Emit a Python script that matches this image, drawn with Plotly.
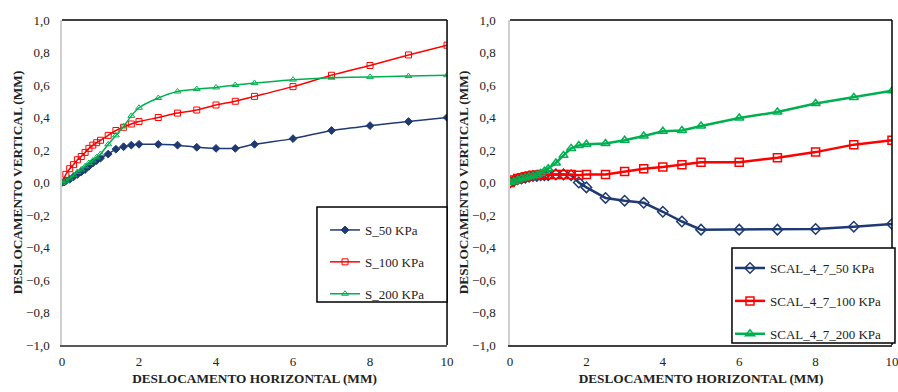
import plotly.graph_objects as go

# ---- Left panel data ----
x_left = [0, 0.1, 0.2, 0.3, 0.4, 0.5, 0.6, 0.7, 0.8, 0.9, 1.0, 1.2, 1.4, 1.6, 1.8,
          2.0, 2.5, 3, 3.5, 4, 4.5, 5, 6, 7, 8, 9, 10]
s_50 = [0, 0.01, 0.02, 0.035, 0.05, 0.065, 0.08, 0.10, 0.12, 0.135, 0.15, 0.175, 0.205,
        0.22, 0.23, 0.235, 0.235, 0.23, 0.217, 0.21, 0.21, 0.235, 0.27, 0.32, 0.35, 0.375, 0.40]
s_100 = [0, 0.05, 0.085, 0.11, 0.14, 0.16, 0.185, 0.21, 0.23, 0.245, 0.26, 0.29, 0.32,
         0.34, 0.36, 0.375, 0.40, 0.427, 0.446, 0.477, 0.50, 0.53, 0.59, 0.66, 0.72, 0.785, 0.845]
s_200 = [0, 0.01, 0.025, 0.045, 0.065, 0.08, 0.10, 0.12, 0.135, 0.155, 0.175, 0.235, 0.29,
         0.345, 0.41, 0.46, 0.52, 0.56, 0.575, 0.585, 0.60, 0.612, 0.633, 0.645, 0.65, 0.655, 0.66]

# ---- Right panel data ----
x_right = [0, 0.1, 0.2, 0.3, 0.4, 0.5, 0.6, 0.7, 0.8, 0.9, 1.0, 1.2, 1.4, 1.6, 1.8,
           2.0, 2.5, 3, 3.5, 4, 4.5, 5, 6, 7, 8, 9, 10]
scal_50 = [0, 0.01, 0.02, 0.025, 0.03, 0.035, 0.04, 0.04, 0.045, 0.045, 0.045, 0.05, 0.05,
           0.045, 0.0, -0.03, -0.095, -0.112, -0.125, -0.18, -0.24, -0.29, -0.29, -0.29,
           -0.286, -0.272, -0.255]
scal_100 = [0, 0.015, 0.025, 0.03, 0.035, 0.04, 0.045, 0.045, 0.05, 0.05, 0.05, 0.05, 0.05,
            0.05, 0.045, 0.05, 0.05, 0.068, 0.085, 0.095, 0.11, 0.125, 0.125, 0.152, 0.187,
            0.233, 0.26]
scal_200 = [0, 0.005, 0.015, 0.025, 0.03, 0.035, 0.04, 0.045, 0.055, 0.07, 0.085, 0.12,
            0.167, 0.21, 0.228, 0.235, 0.24, 0.26, 0.286, 0.315, 0.32, 0.348, 0.397, 0.434,
            0.486, 0.523, 0.564]

y_ticks = [-1.0, -0.8, -0.6, -0.4, -0.2, 0.0, 0.2, 0.4, 0.6, 0.8, 1.0]
x_ticks = [0, 2, 4, 6, 8, 10]

BLUE = "#1F3A73"
RED = "#FF0000"
GREEN = "#00B050"
SERIF = "Liberation Serif"

fig = go.Figure()

left_series = [("S_50 KPa", s_50, BLUE, "diamond"),
               ("S_100 KPa", s_100, RED, "square-open"),
               ("S_200 KPa", s_200, GREEN, "triangle-up-open")]
for name, ys, col, sym in left_series:
    fig.add_trace(go.Scatter(
        x=x_left, y=ys, name=name, mode="lines+markers",
        line=dict(color=col, width=1.5, shape="spline", smoothing=0.6),
        marker=dict(symbol=sym, size=6, color=col, line=dict(color=col, width=1)),
        xaxis="x", yaxis="y", legend="legend", legendgroup=name))

right_series = [("SCAL_4_7_50 KPa", scal_50, BLUE, "diamond-open"),
                ("SCAL_4_7_100 KPa", scal_100, RED, "square-open"),
                ("SCAL_4_7_200 KPa", scal_200, GREEN, "triangle-up-open")]
for name, ys, col, sym in right_series:
    fig.add_trace(go.Scatter(
        x=x_right, y=ys, name=name, mode="lines+markers",
        line=dict(color=col, width=2.5),
        marker=dict(symbol=sym, size=8, color=col, line=dict(color=col, width=1.5)),
        xaxis="x2", yaxis="y2", legend="legend2", legendgroup=name))

axis_common = dict(showgrid=False, zeroline=False, ticks="", automargin=False,
                   ticklabeloverflow="allow",
                   tickfont=dict(family=SERIF, size=13, color="#222222"))
title_font = dict(family=SERIF, size=13.3, color="#222222")

xl_dom = [0, 0.4639]
xr_dom = [0.5398, 1.0]

fig.update_layout(
    width=898, height=392,
    margin=dict(l=62, r=6, t=20, b=47, autoexpand=False),
    paper_bgcolor="white", plot_bgcolor="white",
    separators=", ",
    xaxis=dict(domain=xl_dom, range=[0, 10], tickvals=x_ticks, showline=True,
               linecolor="#595959", linewidth=1.5, anchor="y", ticklabelstandoff=4,
               title=dict(text="<b>DESLOCAMENTO HORIZONTAL (MM)</b>", font=title_font, standoff=5),
               **axis_common),
    yaxis=dict(range=[-1, 1], tickvals=y_ticks, tickformat=".1f", showline=True,
               linecolor="#D0D0D0", linewidth=1.5, anchor="x", ticklabelstandoff=8,
               title=dict(text="<b>DESLOCAMENTO VERTICAL (MM)</b>", font=title_font, standoff=0),
               **axis_common),
    xaxis2=dict(domain=xr_dom, range=[0, 10], tickvals=x_ticks, showline=True,
                linecolor="#404040", linewidth=1.5, anchor="y2", ticklabelstandoff=4,
                title=dict(text="<b>DESLOCAMENTO HORIZONTAL (MM)</b>", font=title_font, standoff=5),
                **axis_common),
    yaxis2=dict(range=[-1, 1], tickvals=y_ticks, tickformat=".1f", showline=True,
                linecolor="#D0D0D0", linewidth=1.5, anchor="x2", ticklabelstandoff=10,
                title=dict(text="<b>DESLOCAMENTO VERTICAL (MM)</b>", font=title_font, standoff=0),
                **axis_common),
    legend=dict(x=0.3169, xanchor="left", y=0.40, yanchor="top",
                bgcolor="rgba(0,0,0,0)", borderwidth=0,
                font=dict(family=SERIF, size=13, color="#222222"),
                tracegroupgap=12, traceorder="grouped"),
    legend2=dict(x=0.8048, xanchor="left", y=0.283, yanchor="top",
                 bgcolor="rgba(0,0,0,0)", borderwidth=0,
                 font=dict(family=SERIF, size=13, color="#222222"),
                 tracegroupgap=13, traceorder="grouped"),
    showlegend=True,
)

# black top/right frame lines of each plot area
for xr, yr in [("x", "y"), ("x2", "y2")]:
    fig.add_shape(type="line", xref=f"{xr} domain", yref=f"{yr} domain",
                  x0=0, x1=1, y0=1, y1=1, line=dict(color="black", width=1.5))
    fig.add_shape(type="line", xref=f"{xr} domain", yref=f"{yr} domain",
                  x0=1, x1=1, y0=0, y1=1, line=dict(color="black", width=1.5))

# legend boxes
fig.add_shape(type="rect", xref="paper", yref="paper", x0=0.3072, x1=0.4639,
              y0=0.1323, y1=0.4246, fillcolor="white", line=dict(color="black", width=1.5),
              layer="above")
fig.add_shape(type="rect", xref="paper", yref="paper", x0=0.8072, x1=1.0036,
              y0=0.0062, y1=0.2985, fillcolor="white", line=dict(color="black", width=1.5),
              layer="above")

fig.write_html("out.html",
               config={"displayModeBar": False},
               post_script="document.documentElement.style.margin='0';"
                           "document.body.style.margin='0';"
                           "document.body.style.overflow='hidden';")
